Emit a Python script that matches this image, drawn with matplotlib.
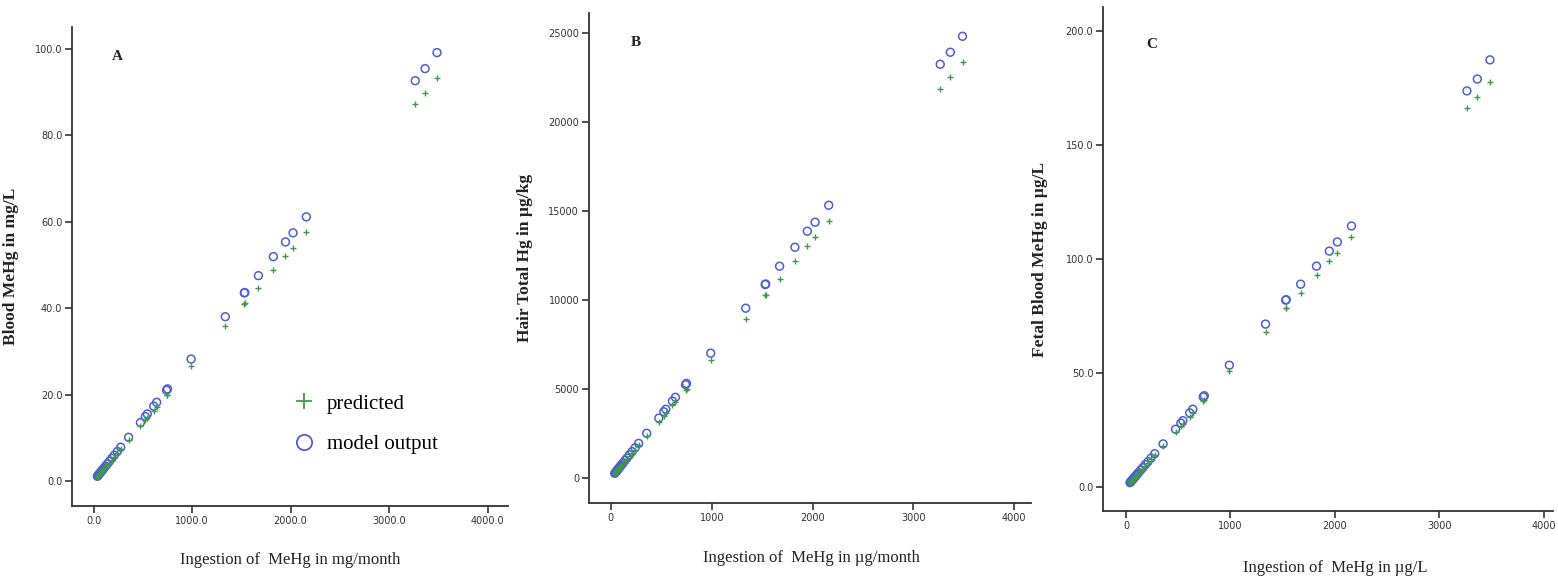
import matplotlib
matplotlib.use("Agg")
import matplotlib.pyplot as plt
from matplotlib.lines import Line2D

# ingestion values (shared by the three panels)
ingestion = [38, 45, 52, 60, 68, 75, 85, 95, 105, 120, 140, 160, 185, 210, 240, 275,
             355, 475, 525, 545, 610, 640, 740, 750, 990, 1337, 1530, 1535, 1673,
             1825, 1948, 2025, 2160, 3266, 3366, 3487]

# A: blood MeHg (mg/L)
blood_model = [1.08, 1.28, 1.48, 1.70, 1.93, 2.13, 2.41, 2.70, 2.98, 3.41, 3.98, 4.54,
               5.25, 5.96, 6.82, 7.81, 10.1, 13.5, 14.9, 15.5, 17.3, 18.2, 21.0, 21.3,
               28.2, 38.0, 43.5, 43.6, 47.5, 51.9, 55.3, 57.4, 61.1, 92.6, 95.4, 99.1]
blood_pred = [1.01, 1.20, 1.39, 1.60, 1.82, 2.00, 2.27, 2.54, 2.80, 3.20, 3.74, 4.27,
              4.94, 5.61, 6.41, 7.34, 9.5, 12.7, 14.0, 14.6, 16.3, 17.1, 19.8, 20.0,
              26.6, 35.9, 41.0, 41.1, 44.7, 48.8, 52.1, 53.9, 57.6, 87.3, 89.8, 93.3]

# B: hair total Hg (ug/kg)
hair_model = [270, 320, 369, 426, 483, 533, 604, 675, 746, 852, 994, 1136, 1314, 1491,
              1704, 1953, 2521, 3373, 3728, 3870, 4331, 4544, 5254, 5325, 7022, 9550,
              10880, 10910, 11910, 12978, 13876, 14382, 15337, 23258, 23933, 24831]
hair_pred = [255, 302, 348, 402, 456, 503, 570, 637, 704, 804, 938, 1072, 1240, 1407,
             1608, 1843, 2379, 3183, 3518, 3652, 4087, 4288, 4958, 5025, 6629, 8933,
             10270, 10290, 11180, 12191, 13034, 13539, 14438, 21854, 22528, 23370]

# C: fetal blood MeHg (ug/L)
fetal_model = [2.03, 2.41, 2.78, 3.21, 3.64, 4.01, 4.55, 5.08, 5.62, 6.42, 7.49, 8.56,
               9.90, 11.2, 12.8, 14.7, 19.0, 25.4, 28.1, 29.2, 32.6, 34.2, 39.6, 40.1,
               53.5, 71.5, 82.0, 82.2, 89.0, 96.9, 103.5, 107.5, 114.5, 173.7, 178.9, 187.3]
fetal_pred = [1.93, 2.29, 2.64, 3.05, 3.45, 3.81, 4.32, 4.83, 5.33, 6.10, 7.11, 8.13,
              9.40, 10.7, 12.2, 14.0, 18.0, 24.1, 26.7, 27.7, 31.0, 32.5, 37.6, 38.1,
              50.9, 68.0, 78.5, 78.6, 85.1, 93.0, 99.1, 102.6, 109.6, 166.2, 171.1, 177.6]

BLUE = "#4c5fd0"
GREEN = "#3f9a48"
TICK_FONT = ["Liberation Sans Narrow", "DejaVu Sans"]
SERIF = "Liberation Serif"

panels = [
    dict(rect=[0.0462, 0.123, 0.280, 0.830], model=blood_model, pred=blood_pred,
         letter="A", ylabel="Blood MeHg in mg/L", xlabel="Ingestion of  MeHg in mg/month",
         xlim=(-220, 4210), ylim=(-5.8, 105), yticks=[0, 20, 40, 60, 80, 100],
         xfmt="{:.1f}", yfmt="{:.1f}", ylab_x=-0.122, xlab_y=-0.096, xlab_x=0.5,
         letter_xy=(0.103, 0.938)),
    dict(rect=[0.378, 0.128, 0.284, 0.849], model=hair_model, pred=hair_pred,
         letter="B", ylabel="Hair Total Hg in µg/kg", xlabel="Ingestion of  MeHg in µg/month",
         xlim=(-218, 4170), ylim=(-1404, 26124), yticks=[0, 5000, 10000, 15000, 20000, 25000],
         xfmt="{:.0f}", yfmt="{:.0f}", ylab_x=-0.126, xlab_y=-0.096, xlab_x=0.503,
         letter_xy=(0.106, 0.940)),
    dict(rect=[0.708, 0.114, 0.289, 0.874], model=fetal_model, pred=fetal_pred,
         letter="C", ylabel="Fetal Blood MeHg in µg/L", xlabel="Ingestion of  MeHg in µg/L",
         xlim=(-220, 4094), ylim=(-10.5, 210.5), yticks=[0, 50, 100, 150, 200],
         xfmt="{:.0f}", yfmt="{:.1f}", ylab_x=-0.122, xlab_y=-0.097, xlab_x=0.516,
         letter_xy=(0.109, 0.926)),
]

fig = plt.figure(figsize=(15.58, 5.77), dpi=100, facecolor="white")

for p in panels:
    ax = fig.add_axes(p["rect"])
    ax.scatter(ingestion, p["model"], s=32, facecolors="none", edgecolors=BLUE,
               linewidths=1.1, zorder=2)
    ax.scatter(ingestion, p["pred"], s=22, marker="+", color=GREEN,
               linewidths=1.0, zorder=3)

    ax.set_xlim(*p["xlim"])
    ax.set_ylim(*p["ylim"])
    xticks = [0, 1000, 2000, 3000, 4000]
    ax.set_xticks(xticks)
    ax.set_xticklabels([p["xfmt"].format(v) for v in xticks])
    ax.set_yticks(p["yticks"])
    ax.set_yticklabels([p["yfmt"].format(v) for v in p["yticks"]])

    for side in ("top", "right"):
        ax.spines[side].set_visible(False)
    for side in ("left", "bottom"):
        ax.spines[side].set_color("#333333")
        ax.spines[side].set_linewidth(1.3)
    ax.tick_params(direction="out", length=5, width=1.2, color="#333333",
                   labelsize=7, labelcolor="#333333", pad=2)
    for lab in ax.get_xticklabels() + ax.get_yticklabels():
        lab.set_family(TICK_FONT)

    ax.set_ylabel(p["ylabel"], family=SERIF, fontsize=12.5, fontweight="bold",
                  color="#222222")
    ax.set_xlabel(p["xlabel"], family=SERIF, fontsize=12, color="#222222")
    ax.yaxis.set_label_coords(p["ylab_x"], 0.5)
    ax.xaxis.set_label_coords(p["xlab_x"], p["xlab_y"])

    ax.text(*p["letter_xy"], p["letter"], transform=ax.transAxes, family=SERIF,
            fontsize=11, fontweight="bold", color="#222222", ha="center", va="center")

    if p["letter"] == "A":
        handles = [
            Line2D([], [], linestyle="none", marker="+", color=GREEN,
                   markersize=11, markeredgewidth=1.3),
            Line2D([], [], linestyle="none", marker="o", markerfacecolor="none",
                   markeredgecolor=BLUE, markersize=11, markeredgewidth=1.3),
        ]
        ax.legend(handles, ["predicted", "model output"], loc="center left",
                  bbox_to_anchor=(0.484, 0.171), frameon=False, borderpad=0,
                  handlelength=1.0, handletextpad=0.6, labelspacing=1.0,
                  prop={"family": SERIF, "size": 15})

fig.savefig("out.png", dpi=100, facecolor="white")
plt.close(fig)
